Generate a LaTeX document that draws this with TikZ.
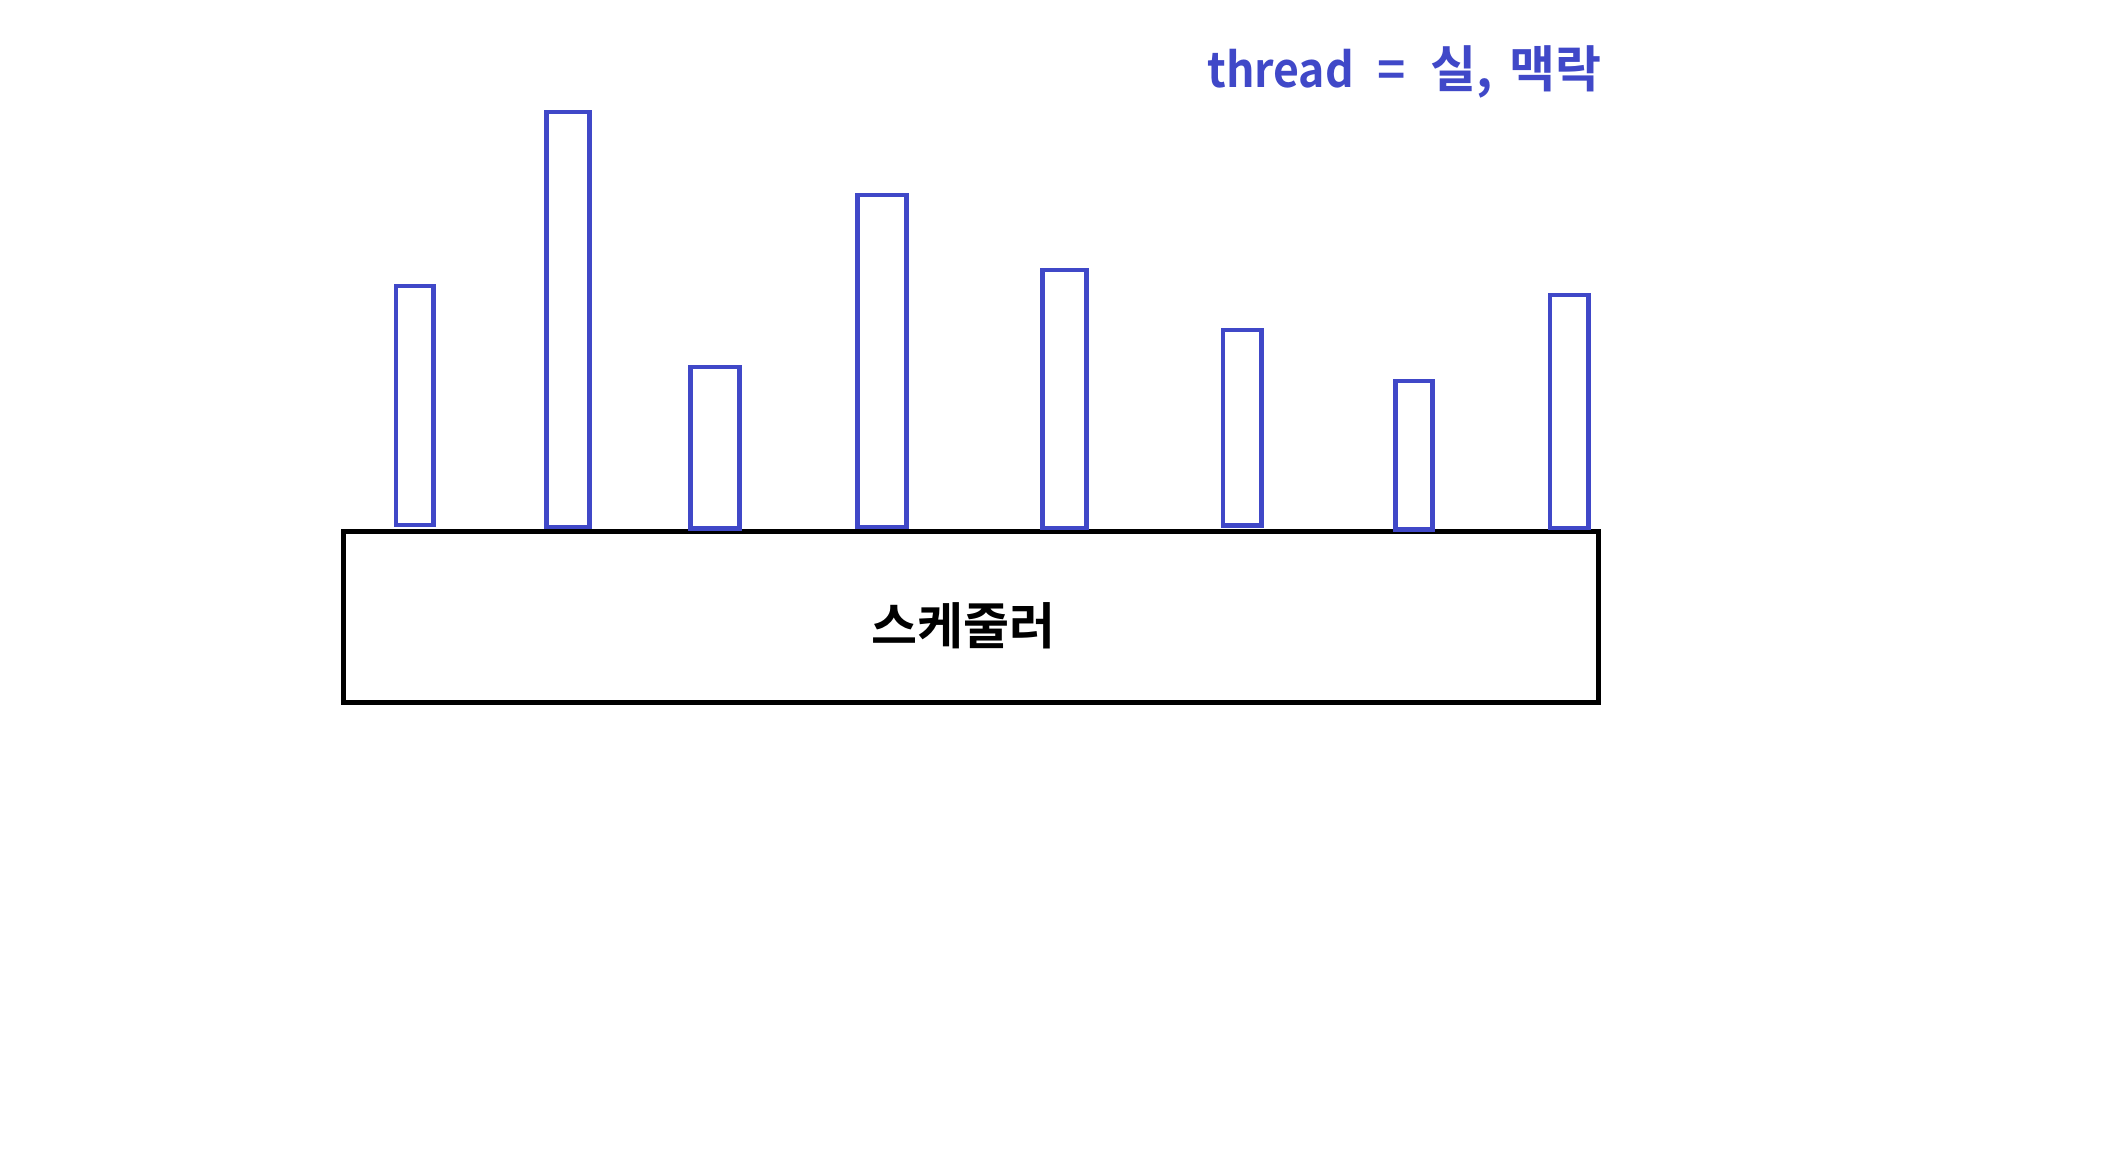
\documentclass[tikz,border=0pt]{standalone}
\usepackage{fontspec}
\newfontfamily\kr{Noto Sans CJK KR}[BoldFont={Noto Sans CJK KR Bold}]
\definecolor{thblue}{RGB}{64,72,200}
\tikzset{
  barline/.style={draw=thblue, line width=4.8pt},
  boxline/.style={draw=black, line width=5pt},
}
\begin{document}
\begin{tikzpicture}[x=1pt,y=-1pt]
\useasboundingbox[fill=white] (0,0) rectangle (2106,1168);
% scheduler box
\draw[boxline] (343.5,531.5) rectangle (1598.5,702.5);
\node[anchor=base, inner sep=0pt, font=\kr\bfseries\fontsize{50pt}{50pt}\selectfont] (sched) at (963,644) {스케줄러};
% threads
\draw[barline] (396,286) rectangle (433.2,525);
\draw[barline] (546.5,112) rectangle (589.8,527);
\draw[barline] (690.7,367) rectangle (739.4,528.7);
\draw[barline] (857.2,195) rectangle (906.8,527);
\draw[barline] (1042.2,270) rectangle (1086.8,528);
\draw[barline] (1223,330) rectangle (1261.8,525.3);
\draw[barline] (1395.2,381) rectangle (1432.8,529.7);
\draw[barline] (1550,295) rectangle (1588.8,528);
% title
\node[anchor=base west, inner sep=0pt, text=thblue, font=\kr\bfseries\fontsize{48pt}{48pt}\selectfont] (title) at (1207,87) {\scalebox{0.93}[1]{thread}\hspace{0.5em}=\hspace{0.5em}{\fontsize{50pt}{50pt}\selectfont 실,\hspace{0.12em} 맥락}};
\end{tikzpicture}
\end{document}
